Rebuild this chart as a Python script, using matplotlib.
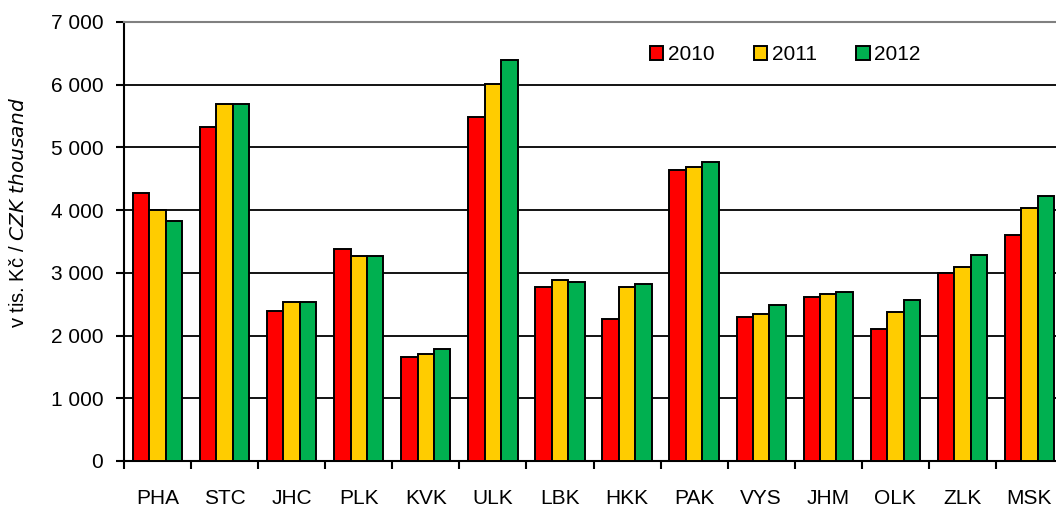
import numpy as np
import matplotlib
matplotlib.use("Agg")
import matplotlib.pyplot as plt
from matplotlib.ticker import FuncFormatter, FixedLocator

plt.rcParams['font.family'] = ['Liberation Sans', 'DejaVu Sans']

# data
regions = ["PHA", "STC", "JHC", "PLK", "KVK", "ULK", "LBK", "HKK",
           "PAK", "VYS", "JHM", "OLK", "ZLK", "MSK"]
v2010 = [4270, 5320, 2390, 3380, 1660, 5480, 2770, 2260, 4640, 2290, 2610, 2100, 2990, 3600]
v2011 = [4000, 5690, 2540, 3275, 1710, 6010, 2890, 2770, 4680, 2350, 2670, 2380, 3090, 4040]
v2012 = [3820, 5690, 2540, 3275, 1780, 6400, 2860, 2830, 4770, 2480, 2700, 2570, 3280, 4230]
years = ["2010", "2011", "2012"]
colors = ["#FF0000", "#FFCC00", "#00B050"]

fig = plt.figure(figsize=(10.56, 5.07), dpi=100)
ax = fig.add_axes([124 / 1056, 1 - 461 / 507, (1063 - 124) / 1056, (461 - 22) / 507])

x = np.arange(len(regions))
w = 0.245
for i, (vals, lab, c) in enumerate(zip([v2010, v2011, v2012], years, colors)):
    ax.bar(x + (i - 1) * w, vals, width=w, color=c, edgecolor="black",
           linewidth=1.4, label=lab, zorder=3)

ax.set_xlim(-0.5, len(regions) - 0.5)
ax.set_ylim(0, 7000)
ax.set_yticks(np.arange(0, 7001, 1000))
ax.yaxis.set_major_formatter(FuncFormatter(lambda v, p: f"{int(v):,}".replace(",", " ")))
ax.grid(axis="y", color="black", linewidth=1.3, zorder=0)
ax.set_axisbelow(True)

# ticks between categories, labels in the middle
ax.xaxis.set_major_locator(FixedLocator(np.arange(-0.5, len(regions), 1)))
ax.xaxis.set_minor_locator(FixedLocator(x))
ax.set_xticklabels([])
ax.set_xticklabels(regions, minor=True)
ax.tick_params(axis="x", which="major", length=6, width=1.5, direction="out")
ax.tick_params(axis="x", which="minor", length=0, pad=20, labelsize=15)
ax.tick_params(axis="y", length=6, width=1.5, labelsize=15, pad=9)

for s in ["left", "bottom"]:
    ax.spines[s].set_linewidth(1.5)
ax.spines["right"].set_visible(False)
ax.spines["top"].set_color("#808080")
ax.spines["top"].set_linewidth(1.5)

ax.set_ylabel("v tis. Kč / $\\it{CZK\\ thousand}$", fontsize=14.5)
ax.yaxis.set_label_coords(-0.102, 0.565)

ax.legend(loc="center", bbox_to_anchor=(0.704, 0.926), ncol=3, frameon=False,
          fontsize=15, handlelength=0.65, handleheight=0.65, handletextpad=0.2,
          columnspacing=1.9)

fig.savefig("out.png", dpi=100)
